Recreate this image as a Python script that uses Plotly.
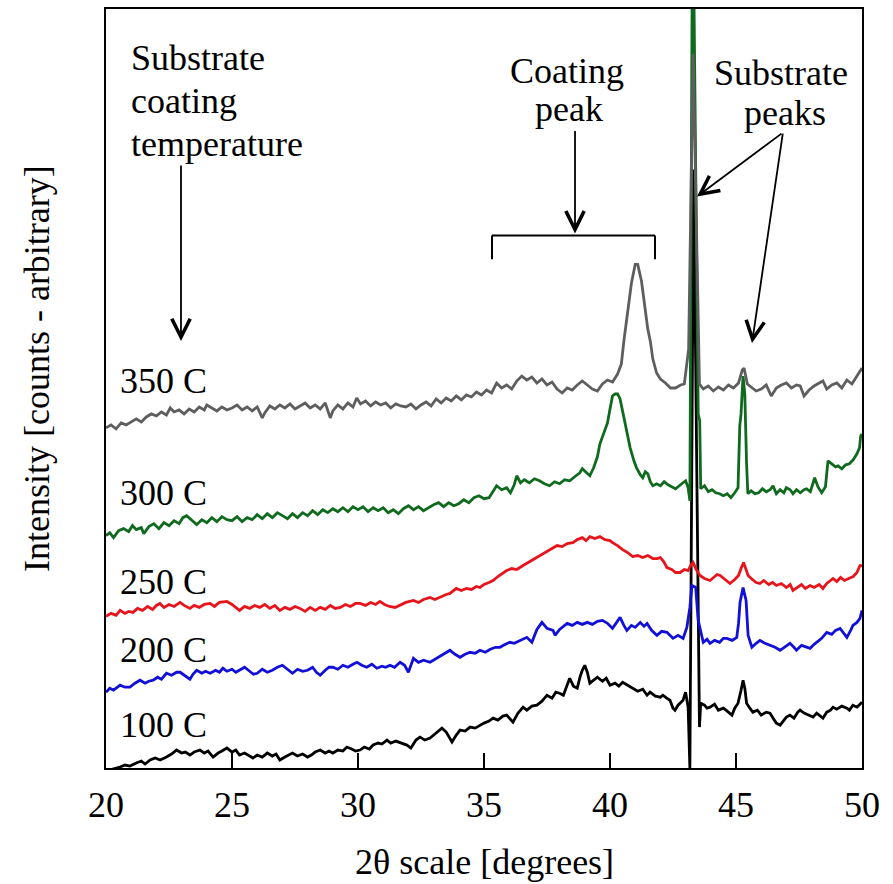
import plotly.graph_objects as go

# ---------------- data (2-theta in degrees, intensity in arbitrary counts) ----------------
x_350 = [20.0,20.2,20.4,20.6,20.8,21.0,21.2,21.4,21.6,21.8,22.0,22.2,22.4,22.55,22.7,22.9,23.1,23.3,23.5,23.7,
         23.9,24.0,24.2,24.4,24.6,24.8,25.0,25.2,25.4,25.6,25.8,26.0,26.2,26.3,26.5,26.7,26.9,27.1,27.3,27.5,
         27.7,27.9,28.1,28.3,28.5,28.7,28.9,29.0,29.2,29.4,29.6,29.8,29.95,30.1,30.3,30.5,30.7,30.9,31.1,31.3,
         31.5,31.7,31.9,32.1,32.3,32.5,32.7,32.9,33.1,33.3,33.5,33.7,33.9,34.1,34.3,34.5,34.7,34.9,35.1,35.3,
         35.5,35.7,35.9,36.1,36.3,36.5,36.7,36.9,37.1,37.3,37.5,37.7,37.9,38.1,38.3,38.5,38.7,38.9,39.1,39.3,
         39.5,39.7,39.9,40.1,40.3,40.45,40.55,40.7,40.85,41.0,41.1,41.25,41.4,41.5,41.6,41.7,41.85,42.0,42.2,42.4,
         42.6,42.8,42.95,43.05,43.12,43.3,43.5,43.55,43.7,43.9,44.1,44.3,44.5,44.7,44.9,45.1,45.25,
         45.32,45.45,45.6,45.8,46.0,46.2,46.4,46.6,46.8,47.0,47.2,47.4,47.55,47.7,47.9,48.1,48.3,48.45,48.6,48.8,
         49.0,49.2,49.4,49.6,49.8,50.0]
y_350 = [341,344,340,346,344,347,350,347,352,355,353,357,354,361,357,359,355,360,357,362,
         359,364,361,358,362,359,361,364,359,362,358,362,351,356,363,360,364,361,365,360,
         363,366,361,364,360,366,351,358,364,360,366,362,371,365,368,363,367,364,366,361,
         365,363,362,365,360,364,367,363,370,366,371,368,373,369,374,372,377,374,379,376,
         386,381,384,380,388,393,389,392,386,390,384,387,380,376,381,379,384,388,384,380,
         378,385,389,387,395,405,428,460,486,505,505,488,461,440,428,410,396,390,386,381,
         381,384,385,403,420,716,418,385,380,383,378,382,379,384,381,386,399,
         401,385,382,378,380,384,373,381,384,386,381,384,383,373,379,383,386,388,380,384,
         386,381,389,385,393,401]

x_300 = [20.0,20.15,20.3,20.5,20.7,20.9,21.05,21.2,21.4,21.5,21.7,21.9,22.1,22.3,22.5,22.7,22.9,23.05,23.2,23.4,
         23.6,23.8,24.0,24.2,24.4,24.6,24.8,25.0,25.2,25.4,25.6,25.8,26.0,26.2,26.4,26.6,26.8,27.0,27.2,27.4,
         27.6,27.8,28.0,28.2,28.4,28.6,28.8,29.0,29.2,29.4,29.6,29.8,30.0,30.2,30.4,30.6,30.8,31.0,31.2,31.4,
         31.6,31.8,32.0,32.2,32.4,32.6,32.8,33.0,33.2,33.4,33.6,33.8,34.0,34.2,34.4,34.6,34.8,35.0,35.2,35.35,
         35.5,35.7,35.9,36.05,36.2,36.3,36.45,36.6,36.8,37.0,37.2,37.4,37.6,37.8,38.0,38.2,38.4,38.6,38.8,38.9,
         39.05,39.2,39.35,39.5,39.6,39.75,39.9,40.0,40.1,40.2,40.3,40.4,40.5,40.6,40.7,40.8,40.95,41.05,41.2,41.3,
         41.4,41.5,41.6,41.7,41.85,42.0,42.15,42.3,42.45,42.6,42.75,42.9,43.0,43.1,43.17,43.28,43.5,43.56,
         43.6,43.75,43.9,44.05,44.2,44.35,44.5,44.65,44.8,44.95,45.08,45.15,45.2,45.28,45.35,45.42,45.47,45.6,45.75,45.9,
         46.05,46.2,46.35,46.47,46.6,46.75,46.9,47.0,47.15,47.26,47.4,47.55,47.7,47.8,47.95,48.05,48.12,48.25,48.4,48.55,
         48.65,48.8,48.95,49.05,49.2,49.35,49.5,49.65,49.8,49.9,49.95,50.0]
y_300 = [233,236,231,238,240,237,243,239,241,235,242,245,240,246,243,248,245,251,253,248,
         244,249,246,251,247,252,249,248,252,247,251,249,254,250,255,251,256,253,250,255,
         251,256,253,258,254,259,256,260,257,261,257,262,259,262,257,261,258,261,256,259,
         255,260,263,259,262,258,261,264,266,262,266,263,265,269,266,271,273,270,271,277,
         283,279,281,276,284,293,286,289,286,290,288,285,283,287,285,289,288,292,296,300,
         296,293,301,312,325,335,346,360,373,375,375,370,358,345,332,321,308,301,294,291,
         297,295,287,283,285,283,287,284,282,280,283,286,288,281,268,900,355,348,
         280,283,277,279,276,275,273,275,271,276,281,343,355,393,375,305,275,278,275,276,
         280,277,279,283,275,279,276,281,279,275,279,276,279,280,277,285,291,282,276,282,
         308,305,302,303,300,304,305,309,315,321,333,335]

x_250 = [20.0,20.2,20.4,20.56,20.75,20.9,21.07,21.25,21.45,21.65,21.85,22.0,22.14,22.3,22.5,22.7,22.94,23.1,23.33,23.5,
         23.7,23.9,24.13,24.3,24.5,24.8,25.0,25.15,25.3,25.5,25.7,25.9,26.1,26.3,26.5,26.7,26.9,27.1,27.3,27.5,
         27.7,27.9,28.1,28.3,28.5,28.7,28.9,29.1,29.3,29.5,29.7,29.9,30.08,30.3,30.5,30.7,30.87,31.05,31.25,31.47,
         31.7,31.9,32.2,32.4,32.6,32.86,33.05,33.3,33.5,33.65,33.9,34.1,34.3,34.5,34.7,34.84,35.0,35.2,35.36,35.55,
         35.75,35.9,36.1,36.3,36.55,36.75,36.9,37.1,37.3,37.5,37.74,37.9,38.1,38.3,38.53,38.7,38.9,39.05,39.2,39.4,
         39.6,39.8,40.0,40.1,40.3,40.5,40.7,40.9,41.1,41.3,41.5,41.7,41.86,42.0,42.13,42.26,42.45,42.6,42.78,42.95,
         43.1,43.22,43.3,43.4,43.57,43.75,43.97,44.1,44.25,44.37,44.55,44.76,44.95,45.1,45.2,45.3,45.4,45.48,45.65,45.8,
         45.95,46.1,46.3,46.45,46.6,46.8,47.0,47.15,47.26,47.45,47.6,47.75,47.94,48.1,48.3,48.45,48.6,48.75,48.85,49.0,
         49.15,49.3,49.5,49.65,49.8,49.92,50.0]
y_250 = [152,155,153,158,155,157,156,160,158,162,159,163,165,161,164,162,166,163,160,163,
         161,164,165,162,166,167,164,161,158,162,160,163,161,164,160,163,158,161,159,162,
         160,157,161,158,161,159,163,160,161,164,162,165,165,163,166,164,167,164,162,161,
         164,166,168,166,169,171,169,172,174,175,180,178,180,179,182,181,184,186,188,192,
         195,198,200,199,203,206,208,211,214,217,220,223,222,225,226,229,231,228,232,230,
         232,229,228,226,223,219,216,212,213,211,213,210,210,211,207,201,199,196,196,199,
         198,204,206,200,193,190,188,191,194,193,189,185,189,193,200,206,199,193,189,186,
         185,188,184,186,183,185,181,184,178,181,184,180,183,181,184,180,185,188,190,187,
         191,188,190,192,196,203,203]

x_200 = [20.0,20.15,20.3,20.56,20.75,20.95,21.15,21.35,21.55,21.7,21.87,22.05,22.2,22.4,22.6,22.8,22.94,23.1,23.33,23.45,
         23.6,23.8,23.95,24.13,24.35,24.5,24.64,24.8,25.0,25.15,25.3,25.5,25.7,25.85,26.0,26.2,26.4,26.6,26.8,27.0,
         27.2,27.4,27.6,27.8,28.0,28.2,28.35,28.5,28.7,28.85,29.0,29.2,29.4,29.6,29.8,29.96,30.15,30.35,30.55,30.75,
         30.95,31.1,31.27,31.45,31.67,31.85,32.0,32.2,32.4,32.6,32.86,33.05,33.25,33.45,33.65,33.85,34.05,34.25,34.45,34.65,
         34.84,35.05,35.25,35.45,35.63,35.85,36.03,36.2,36.45,36.7,36.9,37.1,37.3,37.5,37.74,37.82,38.0,38.15,38.3,38.5,
         38.7,38.9,39.1,39.3,39.5,39.7,39.9,40.1,40.25,40.4,40.55,40.67,40.85,41.0,41.2,41.35,41.47,41.65,41.86,42.05,
         42.26,42.4,42.5,42.7,42.9,43.05,43.17,43.25,43.4,43.5,43.57,43.7,43.85,43.97,44.15,44.35,44.5,44.64,44.85,45.03,
         45.1,45.16,45.28,45.4,45.48,45.63,45.8,45.95,46.15,46.35,46.55,46.75,46.95,47.14,47.3,47.4,47.6,47.8,47.94,48.1,
         48.2,48.4,48.6,48.8,48.95,49.13,49.28,49.4,49.55,49.64,49.8,49.92,50.0]
y_200 = [76,80,78,83,81,81,85,88,85,87,88,91,89,95,93,96,96,93,89,94,
         98,95,97,95,98,96,100,97,99,96,98,101,97,94,95,99,96,98,101,103,
         99,95,99,97,98,101,96,93,98,101,101,99,103,101,104,106,103,101,104,100,
         102,101,103,101,106,103,96,110,106,108,106,109,112,115,118,114,111,114,116,115,
         118,116,119,121,121,124,126,125,128,131,126,139,146,140,138,133,139,142,145,143,
         146,144,146,144,147,148,145,140,146,151,143,138,143,141,146,142,145,138,133,137,
         136,132,130,133,130,141,161,183,181,148,140,126,129,125,128,126,130,130,128,131,
         145,166,181,168,133,121,125,128,125,123,121,118,122,125,121,118,123,121,120,124,
         126,130,136,134,138,140,135,131,138,143,146,150,158]

x_100 = [20.0,20.3,20.56,20.75,20.95,21.2,21.4,21.55,21.75,21.95,22.15,22.4,22.6,22.8,23.0,23.15,23.33,23.5,23.73,23.9,
         24.05,24.25,24.45,24.6,24.8,25.0,25.15,25.3,25.5,25.7,25.83,26.0,26.2,26.4,26.6,26.75,26.9,27.1,27.25,27.4,
         27.6,27.8,28.0,28.15,28.3,28.5,28.7,28.85,29.0,29.2,29.4,29.56,29.75,29.9,30.08,30.25,30.45,30.6,30.8,30.95,
         31.15,31.3,31.5,31.7,31.94,32.1,32.3,32.46,32.65,32.86,33.05,33.2,33.33,33.5,33.73,33.9,34.05,34.25,34.45,34.65,
         34.84,35.0,35.2,35.36,35.55,35.75,35.9,36.0,36.15,36.35,36.55,36.7,36.9,37.1,37.3,37.5,37.7,37.85,38.0,38.15,
         38.3,38.4,38.55,38.7,38.82,38.9,39.0,39.1,39.2,39.35,39.5,39.7,39.85,40.0,40.2,40.35,40.5,40.7,40.9,41.1,
         41.3,41.47,41.59,41.8,42.0,42.1,42.25,42.38,42.5,42.58,42.7,42.78,42.9,43.0,43.1,43.17,43.32,43.55,43.6,43.75,
         43.85,43.97,44.15,44.3,44.5,44.65,44.84,44.95,45.08,45.2,45.28,45.35,45.42,45.55,45.67,45.85,46.0,46.2,46.35,46.5,
         46.6,46.75,46.9,47.0,47.14,47.3,47.45,47.54,47.7,47.85,48.06,48.2,48.35,48.45,48.6,48.75,48.85,49.0,49.2,49.4,
         49.5,49.64,49.8,49.92,50.0]
y_100 = [-3,-1,1,3,2,5,7,4,8,10,8,11,14,18,15,16,13,16,18,15,
         17,11,15,17,20,16,18,13,15,12,10,13,11,15,12,14,8,11,13,15,
         12,14,11,13,16,18,15,17,15,18,17,21,19,17,18,21,19,23,25,24,
         28,25,27,25,23,20,28,31,28,30,34,37,40,36,26,33,38,37,41,40,
         43,45,47,50,48,52,53,50,46,55,61,58,62,63,67,73,70,76,75,73,
         84,90,82,80,92,98,103,96,85,88,91,87,90,83,85,82,86,83,80,77,
         79,73,76,72,71,73,70,68,60,58,63,65,68,76,61,0,600,41,65,63,
         60,61,64,58,60,57,53,60,65,78,88,80,65,60,56,58,53,56,55,49,
         45,43,48,51,53,50,56,58,55,53,51,55,52,50,56,58,61,59,62,60,
         58,63,61,64,66]

series_labels = ["350 C", "300 C", "250 C", "200 C", "100 C"]
series_colors = ["#5e5e5e", "#0f6a1e", "#e8141b", "#1010d8", "#000000"]

# ---------------- geometry helpers (for annotations only) ----------------
PL, PR, PT, PB = 106, 862, 7, 768
X0, X1 = 20.0, 50.0
Y0, Y1 = 0.0, 761.0

def pxp(xp):  # pixel x -> paper
    return (xp - PL) / (PR - PL)

def pyp(yp):  # pixel y -> paper
    return (PB - yp) / (PB - PT)

def dxp(xp):  # pixel x -> data x
    return X0 + (xp - PL) / (PR - PL) * (X1 - X0)

def dyp(yp):  # pixel y -> data y
    return Y0 + (PB - yp) / (PB - PT) * (Y1 - Y0)

FONT = "Liberation Serif"
FS = 36

fig = go.Figure()
for xs, ys, col in [(x_100, y_100, series_colors[4]), (x_200, y_200, series_colors[3]),
                    (x_250, y_250, series_colors[2]), (x_300, y_300, series_colors[1]),
                    (x_350, y_350, series_colors[0])]:
    fig.add_trace(go.Scatter(x=xs, y=ys, mode="lines", line=dict(color=col, width=2.8),
                             showlegend=False, hoverinfo="skip"))

ann = []
def text(t, xp, yp, anchor="left"):
    ann.append(dict(text=t, xref="paper", yref="paper", x=pxp(xp), y=pyp(yp),
                    xanchor=anchor, yanchor="middle", showarrow=False,
                    font=dict(family=FONT, size=FS, color="black")))

# series labels
label_pos = [380, 492, 582, 650, 725]
for lab, yp in zip(series_labels, label_pos):
    text(lab, 118, yp)

# explanatory texts
text("Substrate", 129, 56)
text("coating", 129, 99)
text("temperature", 129, 142)
text("Coating", 567, 69, "center")
text("peak", 569, 107, "center")
text("Substrate", 781, 71, "center")
text("peaks", 785, 111, "center")

# axis titles
ann.append(dict(text="2θ scale [degrees]", xref="paper", yref="paper", x=pxp(484), y=pyp(862),
                xanchor="center", yanchor="middle", showarrow=False,
                font=dict(family=FONT, size=FS, color="black")))
ann.append(dict(text="Intensity [counts - arbitrary]", xref="paper", yref="paper", x=pxp(37), y=pyp(368),
                xanchor="center", yanchor="middle", showarrow=False, textangle=-90,
                font=dict(family=FONT, size=FS, color="black")))

def arrow(x_tail, y_tail, x_head, y_head):
    ann.append(dict(text="", xref="x", yref="y", x=dxp(x_head), y=dyp(y_head),
                    axref="pixel", ayref="pixel", ax=x_tail - x_head, ay=y_tail - y_head,
                    showarrow=True, arrowhead=5, arrowsize=2, arrowwidth=1.8, arrowcolor="black",
                    standoff=0))

arrow(181, 163, 181, 340)
arrow(575, 128, 575, 232)
arrow(783, 131, 697, 195)
arrow(783, 131, 752, 342)

shapes = []
def seg(x0p, y0p, x1p, y1p):
    shapes.append(dict(type="line", xref="x", yref="y", x0=dxp(x0p), y0=dyp(y0p), x1=dxp(x1p), y1=dyp(y1p),
                       line=dict(color="black", width=2)))
# bracket over the coating peak region
seg(492, 234, 655, 234)
seg(492, 234, 492, 258)
seg(655, 234, 655, 258)

fig.update_layout(
    width=893, height=884,
    margin=dict(l=PL, r=893 - PR, t=PT, b=884 - PB),
    paper_bgcolor="white", plot_bgcolor="white",
    font=dict(family=FONT, size=FS, color="black"),
    showlegend=False,
    annotations=ann, shapes=shapes,
)
fig.update_xaxes(range=[X0, X1], tickvals=[20, 25, 30, 35, 40, 45, 50], ticks="inside", ticklen=15,
                 tickwidth=2, tickcolor="black", showline=True, linewidth=2, linecolor="black",
                 mirror=True, showgrid=False, zeroline=False, ticklabelstandoff=4,
                 tickfont=dict(family=FONT, size=FS, color="black"))
fig.update_yaxes(range=[Y0, Y1], showticklabels=False, ticks="", showline=True, linewidth=2,
                 linecolor="black", mirror=True, showgrid=False, zeroline=False)

fig.write_html("out.html")
